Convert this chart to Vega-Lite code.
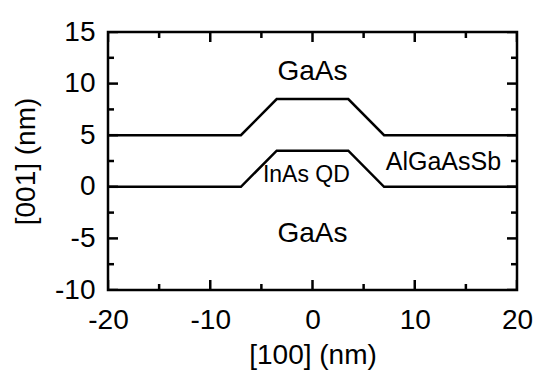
{
  "$schema": "https://vega.github.io/schema/vega-lite/v6.json",
  "autosize": "none",
  "width": 409,
  "height": 258,
  "padding": {"left": 108, "top": 32, "right": 19, "bottom": 82},
  "background": "white",
  "config": {
    "view": {"stroke": "black", "strokeWidth": 2.5},
    "font": "Liberation Sans",
    "axis": {
      "grid": false,
      "domain": false,
      "ticks": false,
      "tickSize": 0,
      "labelFont": "Liberation Sans",
      "labelFontSize": 28,
      "labelColor": "black",
      "labelFlush": false,
      "labelOverlap": false,
      "labelBound": false,
      "titleFont": "Liberation Sans",
      "titleFontSize": 28,
      "titleFontWeight": "normal",
      "titleColor": "black"
    }
  },
  "resolve": {"axis": {"x": "independent", "y": "independent"}},
  "datasets": {
    "xmajor": [{"v": -20}, {"v": -10}, {"v": 0}, {"v": 10}, {"v": 20}],
    "xminor": [{"v": -15}, {"v": -5}, {"v": 5}, {"v": 15}],
    "ymajor": [{"v": -10}, {"v": -5}, {"v": 0}, {"v": 5}, {"v": 10}, {"v": 15}],
    "yminor": [{"v": -7.5}, {"v": -2.5}, {"v": 2.5}, {"v": 7.5}, {"v": 12.5}]
  },
  "layer": [
    {
      "data": {"values": [
        {"series": "cap", "x": -20, "y": 5},
        {"series": "cap", "x": -7, "y": 5},
        {"series": "cap", "x": -3.5, "y": 8.5},
        {"series": "cap", "x": 3.5, "y": 8.5},
        {"series": "cap", "x": 7, "y": 5},
        {"series": "cap", "x": 20, "y": 5},
        {"series": "qd", "x": -20, "y": 0},
        {"series": "qd", "x": -7, "y": 0},
        {"series": "qd", "x": -3.5, "y": 3.5},
        {"series": "qd", "x": 3.5, "y": 3.5},
        {"series": "qd", "x": 7, "y": 0},
        {"series": "qd", "x": 20, "y": 0}
      ]},
      "mark": {"type": "line", "color": "black", "strokeWidth": 2.5},
      "encoding": {
        "x": {"field": "x", "type": "quantitative",
          "scale": {"domain": [-20, 20], "nice": false, "zero": false},
          "axis": {
            "orient": "bottom",
            "title": "[100] (nm)",
            "values": [-20, -10, 0, 10, 20],
            "labelExpr": "'' + datum.value",
            "labelBaseline": "middle",
            "labelPadding": 30,
            "titleY": 65,
            "titleBaseline": "middle"
          }
        },
        "y": {"field": "y", "type": "quantitative",
          "scale": {"domain": [-10, 15], "nice": false, "zero": false},
          "axis": {
            "orient": "left",
            "title": "[001] (nm)",
            "values": [-10, -5, 0, 5, 10, 15],
            "labelExpr": "'' + datum.value",
            "labelPadding": 13,
            "titleX": -82,
            "titleY": 129,
            "titleAngle": -90,
            "titleAlign": "center",
            "titleBaseline": "middle"
          }
        },
        "detail": {"field": "series"}
      }
    },
    {
      "data": {"name": "xmajor"},
      "mark": {"type": "tick", "orient": "vertical", "color": "black", "size": 20, "thickness": 2.5, "clip": true, "opacity": 1},
      "encoding": {"x": {"field": "v", "type": "quantitative", "axis": null}, "y": {"datum": -10, "type": "quantitative", "axis": null}}
    },
    {
      "data": {"name": "xmajor"},
      "mark": {"type": "tick", "orient": "vertical", "color": "black", "size": 20, "thickness": 2.5, "clip": true, "opacity": 1},
      "encoding": {"x": {"field": "v", "type": "quantitative", "axis": null}, "y": {"datum": 15, "type": "quantitative", "axis": null}}
    },
    {
      "data": {"name": "xminor"},
      "mark": {"type": "tick", "orient": "vertical", "color": "black", "size": 12, "thickness": 2.5, "clip": true, "opacity": 1},
      "encoding": {"x": {"field": "v", "type": "quantitative", "axis": null}, "y": {"datum": -10, "type": "quantitative", "axis": null}}
    },
    {
      "data": {"name": "xminor"},
      "mark": {"type": "tick", "orient": "vertical", "color": "black", "size": 12, "thickness": 2.5, "clip": true, "opacity": 1},
      "encoding": {"x": {"field": "v", "type": "quantitative", "axis": null}, "y": {"datum": 15, "type": "quantitative", "axis": null}}
    },
    {
      "data": {"name": "ymajor"},
      "mark": {"type": "tick", "orient": "horizontal", "color": "black", "size": 20, "thickness": 2.5, "clip": true, "opacity": 1},
      "encoding": {"y": {"field": "v", "type": "quantitative", "axis": null}, "x": {"datum": -20, "type": "quantitative", "axis": null}}
    },
    {
      "data": {"name": "ymajor"},
      "mark": {"type": "tick", "orient": "horizontal", "color": "black", "size": 20, "thickness": 2.5, "clip": true, "opacity": 1},
      "encoding": {"y": {"field": "v", "type": "quantitative", "axis": null}, "x": {"datum": 20, "type": "quantitative", "axis": null}}
    },
    {
      "data": {"name": "yminor"},
      "mark": {"type": "tick", "orient": "horizontal", "color": "black", "size": 12, "thickness": 2.5, "clip": true, "opacity": 1},
      "encoding": {"y": {"field": "v", "type": "quantitative", "axis": null}, "x": {"datum": -20, "type": "quantitative", "axis": null}}
    },
    {
      "data": {"name": "yminor"},
      "mark": {"type": "tick", "orient": "horizontal", "color": "black", "size": 12, "thickness": 2.5, "clip": true, "opacity": 1},
      "encoding": {"y": {"field": "v", "type": "quantitative", "axis": null}, "x": {"datum": 20, "type": "quantitative", "axis": null}}
    },
    {
      "data": {"values": [
        {"label": "GaAs", "x": 0, "y": 11.1},
        {"label": "GaAs", "x": 0, "y": -4.6}
      ]},
      "mark": {"type": "text", "fontSize": 28, "font": "Liberation Sans", "color": "black", "align": "center", "baseline": "middle"},
      "encoding": {
        "x": {"field": "x", "type": "quantitative", "axis": null},
        "y": {"field": "y", "type": "quantitative", "axis": null},
        "text": {"field": "label"}
      }
    },
    {
      "data": {"values": [
        {"label": "InAs QD", "x": -0.6, "y": 1.1}
      ]},
      "mark": {"type": "text", "fontSize": 23, "font": "Liberation Sans", "color": "black", "align": "center", "baseline": "middle"},
      "encoding": {
        "x": {"field": "x", "type": "quantitative", "axis": null},
        "y": {"field": "y", "type": "quantitative", "axis": null},
        "text": {"field": "label"}
      }
    },
    {
      "data": {"values": [
        {"label": "AlGaAsSb", "x": 12.8, "y": 2.4}
      ]},
      "mark": {"type": "text", "fontSize": 25, "font": "Liberation Sans", "color": "black", "align": "center", "baseline": "middle"},
      "encoding": {
        "x": {"field": "x", "type": "quantitative", "axis": null},
        "y": {"field": "y", "type": "quantitative", "axis": null},
        "text": {"field": "label"}
      }
    }
  ]
}
